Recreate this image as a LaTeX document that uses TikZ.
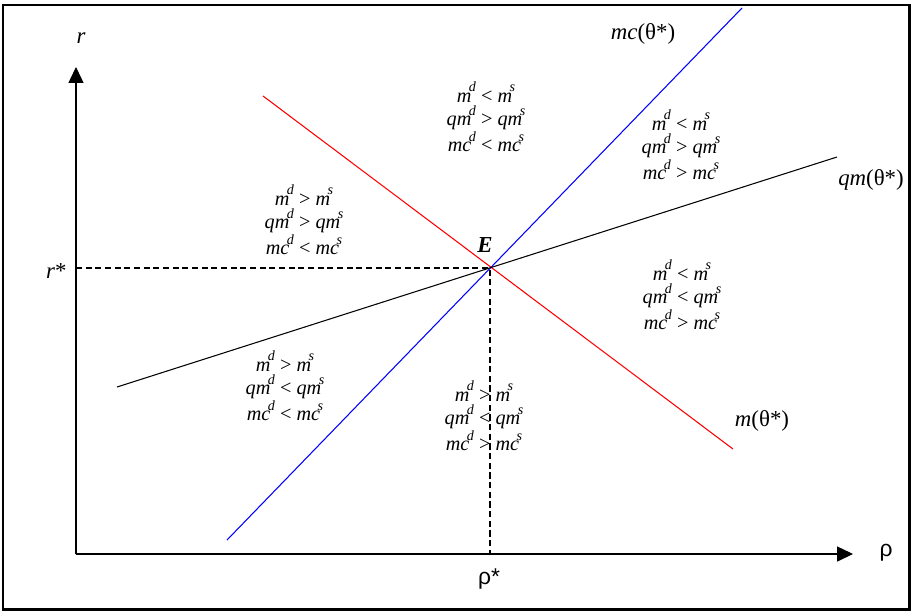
\documentclass[tikz,border=0pt]{standalone}
\usepackage{fontspec}
\setmainfont{Liberation Serif}
\newfontfamily\sansgreek{Liberation Sans}
\usetikzlibrary{arrows.meta}
\newcommand{\ms}[2]{\textit{#1}\kern-0.12em\raisebox{0.5em}{\fontsize{8}{8}\selectfont\textit{#2}}}

\begin{document}
\begin{tikzpicture}[x=0.02cm, y=-0.02cm, line width=0.6pt,
    every node/.style={font=\fontsize{11.5}{13.5}\selectfont},
    lab/.style={font=\fontsize{13}{15}\selectfont},
    cond/.style={align=center, inner sep=0pt}]
    \useasboundingbox (0,0) rectangle (911,613);
    \draw[line width=1.7pt] (3,5) rectangle (909,609);

    % axes
    \coordinate (O) at (76,554);
    \coordinate (ytip) at (76,67);
    \coordinate (xtip) at (853,554);
    \draw[-{Triangle[length=9pt,width=8.5pt]}] (O) -- (ytip);
    \draw[-{Triangle[length=9pt,width=8.5pt]}] (O) -- (xtip);
    \node[lab] (r) at (81,38) {\textit{r}};
    \node[lab] (rho) at (886,553) {\sansgreek ρ};

    % equilibrium
    \coordinate (E) at (490,268);
    \coordinate (rE) at (76,268);
    \coordinate (rhoE) at (490,554);
    \draw[dashed, dash pattern=on 3.5pt off 2pt] (rE) -- (E) -- (rhoE);
    \node[lab] (Elab) at (485,245) {\textbf{\textit{E}}};
    \node[lab, anchor=east] (rstar) at (73,271) {\textit{r}*};
    \node[lab] (rhostar) at (489,579) {\sansgreek ρ*};

    % curves
    \coordinate (mcA) at (227,540);
    \coordinate (mcB) at (742,8);
    \coordinate (mA) at (263,96);
    \coordinate (mB) at (733,449);
    \coordinate (qmA) at (117,387);
    \coordinate (qmB) at (837,157);
    \draw[blue] (mcA) -- (mcB);
    \draw[red] (mA) -- (mB);
    \draw (qmA) -- (qmB);
    \node[lab] (mclab) at (643,34) {\textit{mc}(θ*)};
    \node[lab] (qmlab) at (871,180) {\textit{qm}(θ*)};
    \node[lab] (mlab) at (762,421) {\textit{m}(θ*)};

    % regions
    \node[cond] (top) at (486,117) {\ms{m}{d} < \ms{m}{s}\\ \ms{qm}{d} > \ms{qm}{s}\\ \ms{mc}{d} < \ms{mc}{s}};
    \node[cond] (left) at (304,220) {\ms{m}{d} > \ms{m}{s}\\ \ms{qm}{d} > \ms{qm}{s}\\ \ms{mc}{d} < \ms{mc}{s}};
    \node[cond] (upright) at (681,145) {\ms{m}{d} < \ms{m}{s}\\ \ms{qm}{d} > \ms{qm}{s}\\ \ms{mc}{d} > \ms{mc}{s}};
    \node[cond] (right) at (682,295) {\ms{m}{d} < \ms{m}{s}\\ \ms{qm}{d} < \ms{qm}{s}\\ \ms{mc}{d} > \ms{mc}{s}};
    \node[cond] (lowleft) at (285,386) {\ms{m}{d} > \ms{m}{s}\\ \ms{qm}{d} < \ms{qm}{s}\\ \ms{mc}{d} < \ms{mc}{s}};
    \node[cond] (bottom) at (484,416) {\ms{m}{d} > \ms{m}{s}\\ \ms{qm}{d} < \ms{qm}{s}\\ \ms{mc}{d} > \ms{mc}{s}};
\end{tikzpicture}
\end{document}
